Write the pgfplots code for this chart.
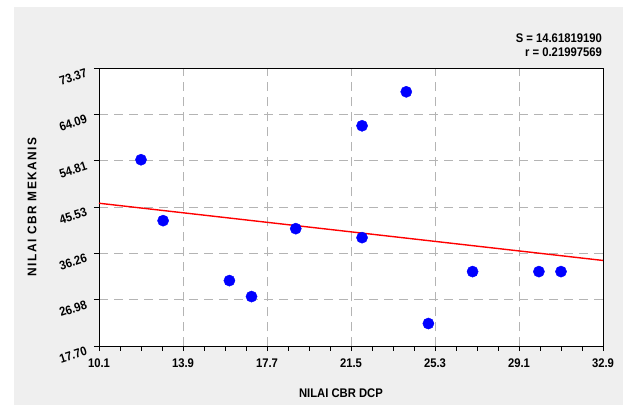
\documentclass[border=0pt]{standalone}
\usepackage{fontspec}
\setmainfont{Liberation Sans}[FakeStretch=0.9]
\newfontfamily\ylabfont{Liberation Sans}[LetterSpace=12,FakeStretch=0.95]
\usepackage{pgfplots}
\pgfplotsset{compat=1.18}
\definecolor{bggray}{HTML}{EFEFEF}
\definecolor{gridgray}{HTML}{B4B4B4}
\begin{document}
\begin{tikzpicture}
\fill[white] (0pt,0pt) rectangle (623pt,405pt);
\fill[bggray] (14pt,0pt) rectangle (623pt,398pt);
\node[anchor=east, font=\fontsize{12.5}{14}\selectfont\bfseries, inner sep=0pt] at (602pt,367pt) {S = 14.61819190};
\node[anchor=east, font=\fontsize{12.5}{14}\selectfont\bfseries, inner sep=0pt] at (602pt,353pt) {r = 0.21997569};
\begin{axis}[
  at={(99pt,59pt)}, anchor=south west,
  scale only axis, width=504pt, height=278pt,
  xmin=10.1, xmax=32.9, ymin=17.70, ymax=73.37,
  axis background/.style={fill=white},
  xtick={10.1,13.9,17.7,21.5,25.3,29.1,32.9},
  xticklabels={10.1,13.9,17.7,21.5,25.3,29.1,32.9},
  ytick={17.70,26.98,36.26,45.53,54.81,64.09,73.37},
  yticklabels={17.70,26.98,36.26,45.53,54.81,64.09,73.37},
  minor x tick num=3, minor y tick num=3,
  tick pos=left, tick align=outside,
  major tick length=5pt, minor tick length=4.5pt,
  every tick/.style={black, line width=0.8pt},
  axis line style={black, line width=0.9pt},
  grid=major,
  major grid style={gridgray, line width=0.9pt, dash pattern=on 9pt off 6pt},
  tick label style={font=\fontsize{12.5}{14}\selectfont\bfseries},
  xticklabel style={yshift=-4pt},
  yticklabel style={rotate=18, anchor=east, xshift=-5pt, yshift=-2pt},
  /pgf/number format/assume math mode=true,
  xlabel={NILAI CBR DCP},
  xlabel style={at={(axis description cs:0.480,-0.169)}, anchor=center, font=\fontsize{12.5}{14}\selectfont\bfseries},
  ylabel={NILAI CBR MEKANIS},
  ylabel style={at={(axis description cs:-0.1329,0.5)}, anchor=center, font=\fontsize{12.5}{14}\selectfont\ylabfont\bfseries},
  clip=false,
]
\addplot[red, line width=1.4pt] coordinates {(10.1,46.29) (32.9,34.83)};
\addplot[only marks, mark=*, mark size=5.6pt, mark options={fill=blue, draw=blue}] coordinates {
(12.0,55.0) (13.0,42.8) (16.0,30.8) (17.0,27.6) (19.0,41.2) (22.0,61.8)
(22.0,39.4) (24.0,68.6) (25.0,22.2) (27.0,32.6) (30.0,32.6) (31.0,32.6)
};
\end{axis}
\end{tikzpicture}
\end{document}
